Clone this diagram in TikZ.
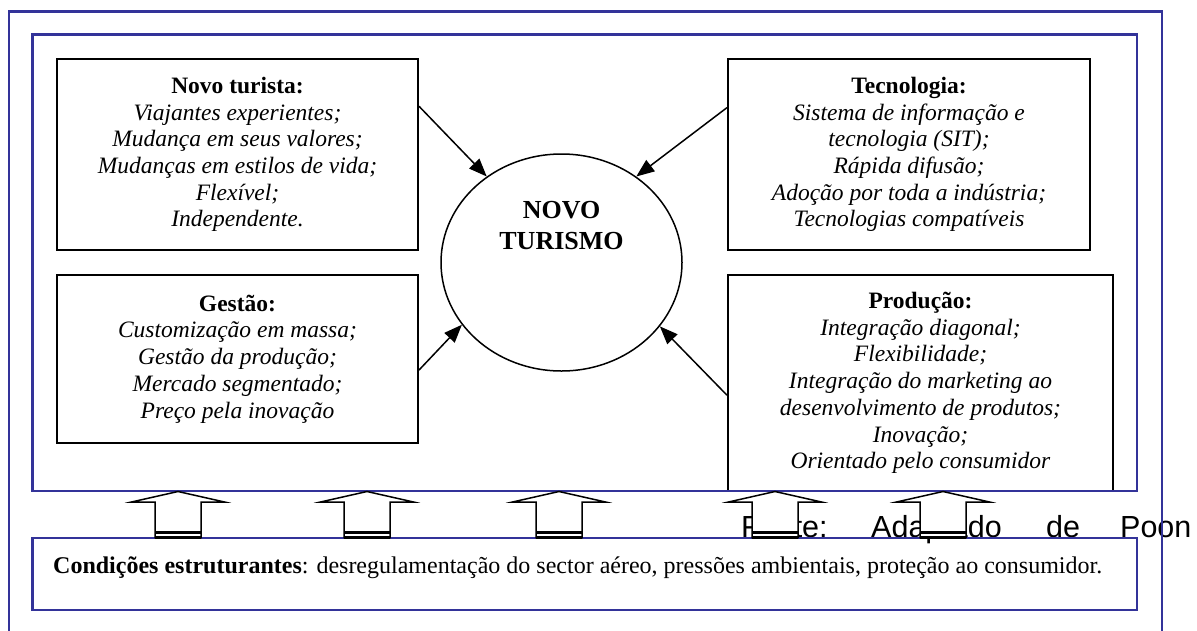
\documentclass[tikz,border=0pt]{standalone}
\usepackage{fontspec}
\setmainfont{Liberation Serif}
\newfontfamily\arialf{Liberation Sans}
\usetikzlibrary{arrows.meta,calc,shapes.geometric}
\definecolor{frameblue}{RGB}{51,51,153}
\begin{document}
\begin{tikzpicture}[x=1pt,y=-1pt,
  infobox/.style={draw=black, line width=2pt, align=center, inner sep=0pt,
    font=\fontsize{23.5}{26.7}\selectfont},
  blueframe/.style={draw=frameblue, line width=2.8pt},
  conn/.style={draw=black, line width=1.5pt, -{Triangle[length=18pt,width=14pt]}},
  blockarrow/.style={draw=black, fill=white, line width=1.5pt, line join=miter}]
\useasboundingbox (0,0) rectangle (1197,630);
\fill[white] (0,0) rectangle (1197,630);

% source note (partly hidden)
\node[anchor=base west, inner sep=0pt, font=\arialf\fontsize{30.5}{34}\selectfont] (fonte) at (741,537)
  {\makebox[130pt][l]{Fonte:}\makebox[175pt][l]{Adaptado}\makebox[74pt][l]{de}Poon};

% boxes
\node[infobox, minimum width=361pt, minimum height=191pt] (nt) at (237.5,154.5)
  {\textbf{Novo turista:}\\ \textit{Viajantes experientes;}\\ \textit{Mudança em seus valores;}\\
   \textit{Mudanças em estilos de vida;}\\ \textit{Flexível;}\\ \textit{Independente.}};
\node[infobox, minimum width=362pt, minimum height=191pt] (tec) at (909,154.5)
  {\textbf{Tecnologia:}\\ \textit{Sistema de informação e}\\ \textit{tecnologia (SIT);}\\
   \textit{Rápida difusão;}\\ \textit{Adoção por toda a indústria;}\\ \textit{Tecnologias compatíveis}};
\node[infobox, minimum width=361pt, minimum height=168pt] (ges) at (237.5,359)
  {\textbf{Gestão:}\\ \textit{Customização em massa;}\\ \textit{Gestão da produção;}\\
   \textit{Mercado segmentado;}\\ \textit{Preço pela inovação}};
\node[infobox, minimum width=385pt, minimum height=216pt] (prod) at (920.5,383)
  {\textbf{Produção:}\\ \textit{Integração diagonal;}\\ \textit{Flexibilidade;}\\
   \textit{Integração do marketing ao}\\ \textit{desenvolvimento de produtos;}\\
   \textit{Inovação;}\\ \textit{Orientado pelo consumidor}};

% centre
\node[ellipse, draw=black, line width=1.5pt, minimum width=241pt, minimum height=217pt, inner sep=0pt] (circ) at (561.5,262.5) {};
\node[align=center, inner sep=0pt, font=\bfseries\fontsize{26}{31}\selectfont] (nvt) at (561.5,226) {NOVO\\TURISMO};

% connectors
\draw[conn] ($(nt.north east)!0.25!(nt.south east)$) -- (circ.131);
\draw[conn] ($(tec.north west)!0.257!(tec.south west)$) -- (circ.49.4);
\draw[conn] ($(ges.north east)!0.565!(ges.south east)$) -- (circ.212.2);
\draw[conn] ($(prod.north west)!0.556!(prod.south west)$) -- (circ.327.5);

% frames
\draw[blueframe] (9,632) -- (9,11.5) -- (1162,11.5) -- (1162,632);
\draw[blueframe] (32.5,34.5) rectangle (1137,491);
\node[draw=frameblue, line width=2.8pt, minimum width=1104.5pt, minimum height=72pt, inner sep=0pt] (cond) at (584.75,574) {};
\node[anchor=base west, inner sep=0pt, font=\fontsize{24}{26}\selectfont] (condtxt) at (53,573)
  {\textbf{Condições estruturantes}: desregulamentação do sector aéreo, pressões ambientais, proteção ao consumidor.};

% block arrows
\foreach \cx in {178,367,559,775,943} {
  \draw[blockarrow] (\cx,491.5) -- (\cx+46.5,502) -- (\cx+23,502) -- (\cx+23,537.5)
     -- (\cx-23,537.5) -- (\cx-23,502) -- (\cx-46.5,502) -- cycle;
  \draw[line width=2.5pt] (\cx-23,532.5) -- (\cx+23,532.5);
  \draw[line width=3pt] (\cx-23,537.5) -- (\cx+23,537.5);
}
\end{tikzpicture}
\end{document}
